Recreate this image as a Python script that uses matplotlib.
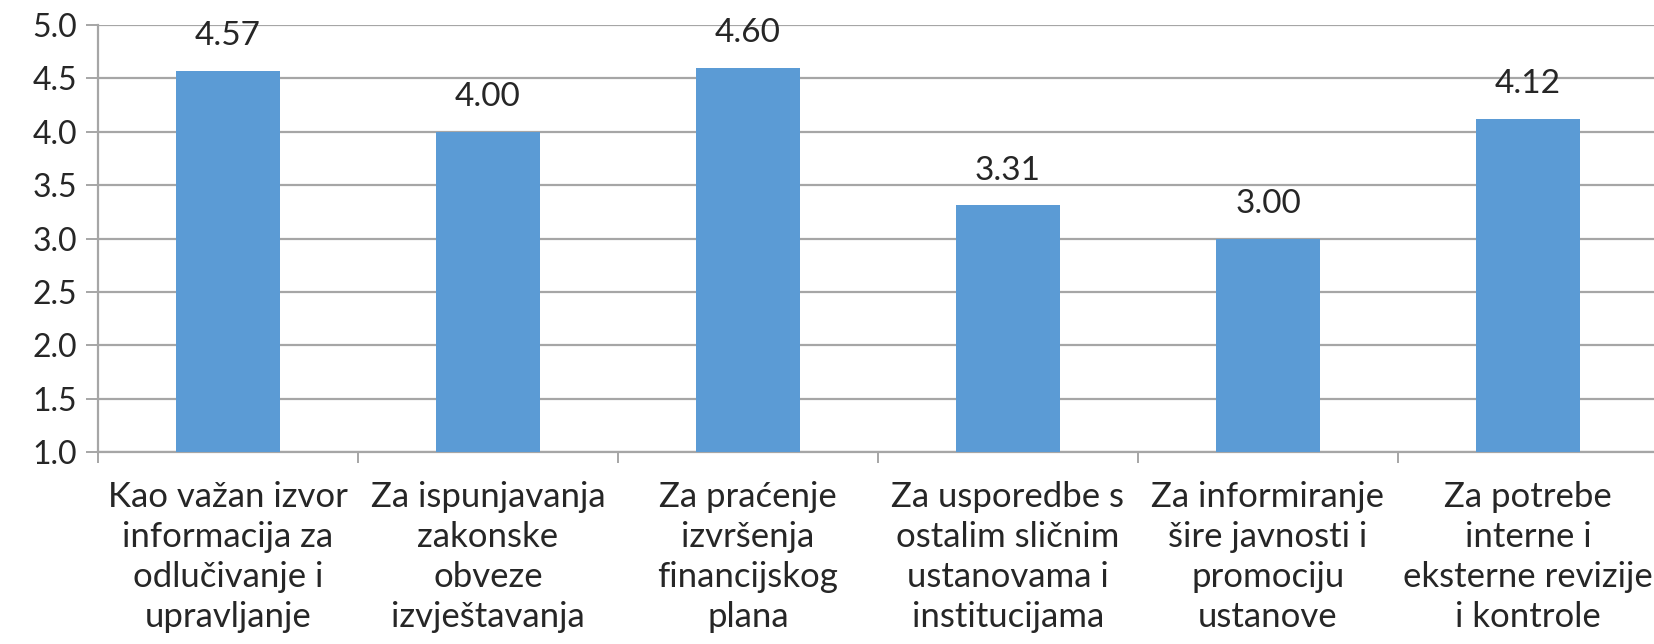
import matplotlib
import matplotlib.pyplot as plt
from matplotlib.ticker import FixedLocator

matplotlib.use("Agg")

BAR_COLOR = "#5B9BD5"
GRID_COLOR = "#A6A6A6"
TEXT_COLOR = "#262626"

categories = [
    "Kao važan izvor\ninformacija za\nodlučivanje i\nupravljanje",
    "Za ispunjavanja\nzakonske\nobveze\nizvještavanja",
    "Za praćenje\nizvršenja\nfinancijskog\nplana",
    "Za usporedbe s\nostalim sličnim\nustanovama i\ninstitucijama",
    "Za informiranje\nšire javnosti i\npromociju\nustanove",
    "Za potrebe\ninterne i\neksterne revizije\ni kontrole",
]
scores = [4.57, 4.00, 4.60, 3.31, 3.00, 4.12]
y_ticks = [1.0, 1.5, 2.0, 2.5, 3.0, 3.5, 4.0, 4.5, 5.0]

plt.rcParams["font.family"] = ["Lato", "DejaVu Sans"]

fig = plt.figure(figsize=(16.54, 6.44), dpi=100)
ax = fig.add_axes([0.0592, 0.2981, 0.9432, 0.6631])

x = range(len(scores))
ax.bar(x, scores, width=0.4, bottom=0, color=BAR_COLOR, zorder=3)

for xi, v in zip(x, scores):
    ax.annotate(f"{v:.2f}", xy=(xi, v), xytext=(0, 14), textcoords="offset points",
                ha="center", va="bottom", fontsize=24, color=TEXT_COLOR)

ax.set_ylim(1.0, 5.0)
ax.set_xlim(-0.5, len(scores) - 0.5)
ax.set_yticks(y_ticks)
ax.set_yticklabels([f"{t:.1f}" for t in y_ticks], fontsize=23, color=TEXT_COLOR)
ax.grid(axis="y", color=GRID_COLOR, linewidth=1.6, zorder=0)
ax.set_axisbelow(True)

ax.set_xticks(list(x))
ax.set_xticklabels(categories, fontsize=25, color=TEXT_COLOR, linespacing=1.3)
ax.xaxis.set_minor_locator(FixedLocator([i + 0.5 for i in range(-1, len(scores))]))
ax.tick_params(axis="x", which="major", length=0, pad=21)
ax.tick_params(axis="x", which="minor", length=8, width=1.4, color=GRID_COLOR)
ax.tick_params(axis="y", which="major", length=9, width=1.4, color=GRID_COLOR, pad=6)

for side in ("top", "right"):
    ax.spines[side].set_visible(False)
for side in ("left", "bottom"):
    ax.spines[side].set_color(GRID_COLOR)
    ax.spines[side].set_linewidth(1.6)

fig.savefig("out.png", dpi=100, facecolor="white")
